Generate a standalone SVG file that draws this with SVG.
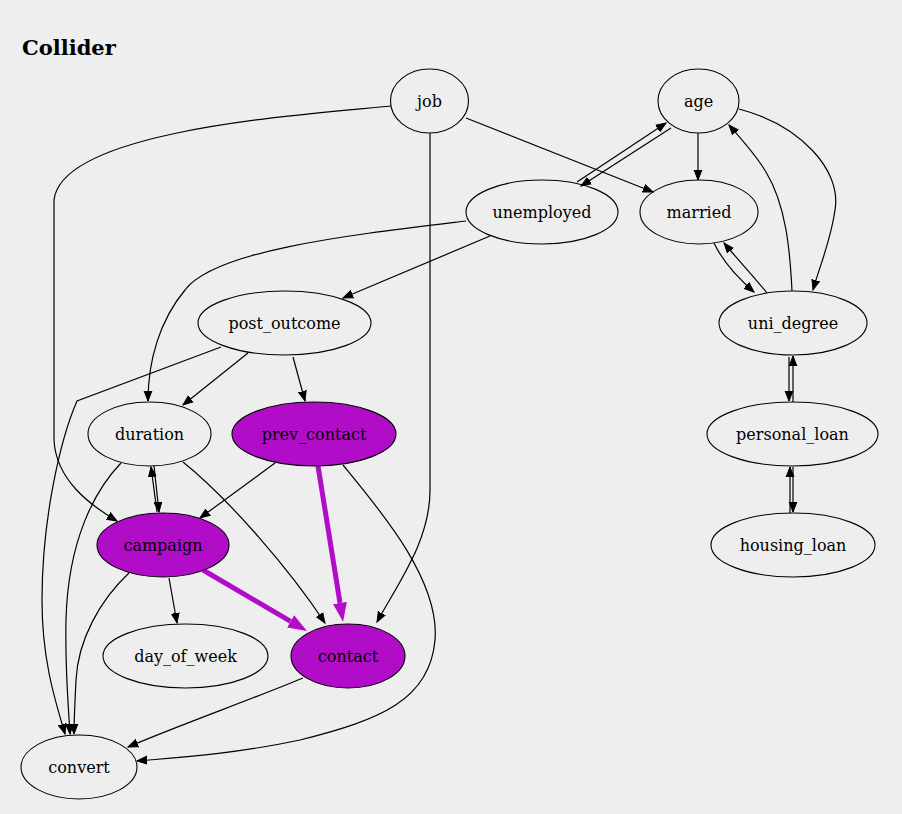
<svg xmlns="http://www.w3.org/2000/svg" width="902" height="814" viewBox="0 0 902 814">
<defs>
<style>
.bg{fill:#eeeeee}
.n ellipse{fill:none;stroke:#000;stroke-width:1.1}
.n.hl ellipse{fill:#b10dc9}
.n text{font-family:"DejaVu Serif","Liberation Serif",serif;font-size:16px;fill:#000;text-anchor:middle}
.e path{fill:none;stroke:#000;stroke-width:1.2;marker-end:url(#ah)}
.e path.p{stroke:#b10dc9;stroke-width:5;marker-end:url(#ahp)}
.title{font-family:"DejaVu Serif","Liberation Serif",serif;font-size:21px;font-weight:bold;fill:#000}
</style>
<marker id="ah" markerUnits="userSpaceOnUse" markerWidth="12" markerHeight="10" refX="10" refY="5" orient="auto" viewBox="0 0 12 10">
<path d="M0,1.1 L10,5 L0,8.9 z" fill="#000" stroke="#000" stroke-width="1"/>
</marker>
<marker id="ahp" markerUnits="userSpaceOnUse" markerWidth="22" markerHeight="18" refX="0" refY="9" orient="auto" viewBox="0 0 22 18">
<path d="M0,2 L19,9 L0,16 z" fill="#b10dc9"/>
</marker>
</defs>
<rect class="bg" x="0" y="0" width="902" height="814"/>
<text class="title" x="22" y="55">Collider</text>
<g id="edges" class="e">
<path d="M391,106 C300,115 62,130 54,200 L54,440 C56,480 90,505 117,521"/>
<path d="M430,133 L430,490 C430,540 400,580 377,622"/>
<path d="M466,118 L653,192"/>
<path d="M698,133 L698,180"/>
<path d="M577,182 L666,123"/>
<path d="M671,128 L581,186"/>
<path d="M739,109 C800,125 842,170 835,210 C831,240 820,265 813,290"/>
<path d="M792,291 C790,250 786,205 766,172 C756,155 742,140 729,125"/>
<path d="M714,243 C722,260 738,278 754,292"/>
<path d="M767,293 C755,278 740,262 724,243"/>
<path d="M793,402 L793,356"/>
<path d="M789,357 L789,401"/>
<path d="M790,513 L790,467"/>
<path d="M793,467 L793,512"/>
<path d="M490,236 L343,298"/>
<path d="M466,221 C350,235 215,250 185,290 C160,320 148,360 148,401"/>
<path d="M248,353 L183,405"/>
<path d="M293,357 L305,401"/>
<path d="M221,347 L77,401 C60,440 42,520 42,600 C42,660 55,700 65,734"/>
<path d="M157,512 L151,467"/>
<path d="M154,466 L159,512"/>
<path d="M183,462 C230,500 290,570 325,623"/>
<path d="M121,463 C95,490 68,540 66,620 C65,670 68,700 70,734"/>
<path d="M275,463 L200,518"/>
<path class="p" d="M318,466 L340,603"/>
<path d="M343,465 C380,510 440,580 435,640 C430,700 380,720 300,740 C230,755 170,758 137,761"/>
<path class="p" d="M203,570 L290.6,621.4"/>
<path d="M169,578 L177,623"/>
<path d="M129,573 C100,600 78,640 76,680 C75,700 74,720 74,734"/>
<path d="M303,678 C250,700 180,725 128,747"/>
</g>
<g id="job" class="n"><ellipse cx="429.5" cy="101" rx="39" ry="32"/><text x="429.5" y="106.5">job</text></g>
<g id="age" class="n"><ellipse cx="698.5" cy="101" rx="40.5" ry="32"/><text x="698.5" y="106.5">age</text></g>
<g id="unemployed" class="n"><ellipse cx="542" cy="212" rx="76" ry="32"/><text x="542" y="217.5">unemployed</text></g>
<g id="married" class="n"><ellipse cx="699" cy="212" rx="59" ry="32"/><text x="699" y="217.5">married</text></g>
<g id="uni_degree" class="n"><ellipse cx="793" cy="323" rx="74" ry="32"/><text x="793" y="328.5">uni_degree</text></g>
<g id="post_outcome" class="n"><ellipse cx="284.5" cy="323" rx="86.5" ry="32"/><text x="284.5" y="328.5">post_outcome</text></g>
<g id="duration" class="n"><ellipse cx="149.5" cy="434" rx="61.5" ry="32"/><text x="149.5" y="439.5">duration</text></g>
<g id="prev_contact" class="n hl"><ellipse cx="314" cy="434" rx="82" ry="32"/><text x="314" y="439.5">prev_contact</text></g>
<g id="personal_loan" class="n"><ellipse cx="792.5" cy="434" rx="85.5" ry="32"/><text x="792.5" y="439.5">personal_loan</text></g>
<g id="campaign" class="n hl"><ellipse cx="163" cy="545" rx="66" ry="32"/><text x="163" y="550.5">campaign</text></g>
<g id="housing_loan" class="n"><ellipse cx="793" cy="545" rx="82" ry="32"/><text x="793" y="550.5">housing_loan</text></g>
<g id="day_of_week" class="n"><ellipse cx="185.5" cy="656" rx="82.5" ry="32"/><text x="185.5" y="661.5">day_of_week</text></g>
<g id="contact" class="n hl"><ellipse cx="348" cy="656" rx="57" ry="32"/><text x="348" y="661.5">contact</text></g>
<g id="convert" class="n"><ellipse cx="79" cy="767" rx="58" ry="32"/><text x="79" y="772.5">convert</text></g>
</svg>
